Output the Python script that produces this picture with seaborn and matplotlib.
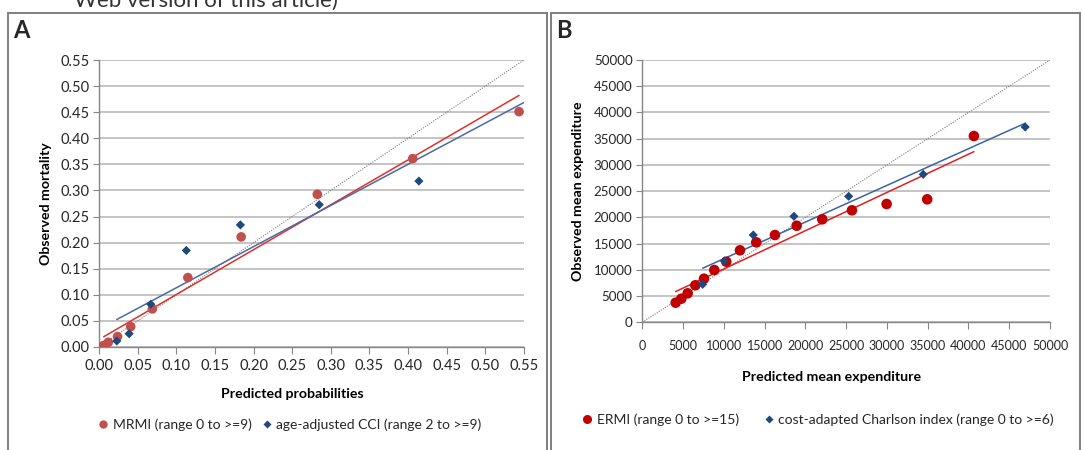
import numpy as np
import pandas as pd
import matplotlib
matplotlib.use("Agg")
import matplotlib.pyplot as plt
import seaborn as sns
from matplotlib.patches import Rectangle
from matplotlib.lines import Line2D
from matplotlib.ticker import FormatStrFormatter, MultipleLocator

# Panel A: mortality
mrmi_pred = [0.006, 0.012, 0.024, 0.041, 0.069, 0.115, 0.184, 0.2825, 0.406, 0.5436]
mrmi_obs = [0.003, 0.009, 0.020, 0.039, 0.073, 0.133, 0.211, 0.2926, 0.361, 0.451]
cci_pred = [0.023, 0.039, 0.067, 0.113, 0.183, 0.285, 0.414]
cci_obs = [0.0115, 0.0255, 0.082, 0.185, 0.234, 0.2727, 0.318]

# Panel B: expenditure
ermi_pred = [4095, 4783, 5566, 6500, 7565, 8827, 10298, 11978, 13976, 16269,
             18930, 22068, 25710, 29963, 34941, 40666]
ermi_obs = [3736, 4498, 5527, 7052, 8310, 9968, 11550, 13723, 15248, 16640,
            18412, 19632, 21347, 22548, 23444, 35510]
charl_pred = [7405, 10053, 13609, 18599, 25305, 34451, 46958]
charl_obs = [7243, 11684, 16640, 20204, 24016, 28209, 37225]

label_mrmi = "MRMI (range 0 to >=9)"
label_cci = "age-adjusted CCI (range 2 to >=9)"
label_ermi = "ERMI (range 0 to >=15)"
label_charl = "cost-adapted Charlson index (range 0 to >=6)"

sns.set_style("white")
plt.rcParams["font.family"] = ["Lato", "DejaVu Sans"]

W, H = 1084, 450
fig = plt.figure(figsize=(W / 100, H / 100), dpi=100)

def fx(px):
    return px / W

def fy(py):
    return 1 - py / H

ax_a = fig.add_axes([fx(99), fy(347), fx(524 - 99), (347 - 60) / H])
ax_b = fig.add_axes([fx(642.3), fy(322.3), fx(1050 - 642.3), (322.3 - 60) / H])

grid_c = "#bfbfbf"
spine_c = "#868686"
txt_c = "#262626"


def style_axis(ax, fs):
    sns.despine(ax=ax)
    ax.yaxis.grid(True, color=grid_c, lw=1.3)
    ax.xaxis.grid(False)
    ax.set_axisbelow(True)
    for s in ["left", "bottom"]:
        ax.spines[s].set_color(spine_c)
        ax.spines[s].set_linewidth(1.0)
    ax.tick_params(axis="x", direction="out", length=5, color=spine_c,
                   labelsize=fs, labelcolor=txt_c, bottom=True, pad=4)
    ax.tick_params(axis="y", direction="out", length=4, color=spine_c,
                   labelsize=fs, labelcolor=txt_c, left=True, pad=3)


def fit_line(ax, x, y, x0, x1, color):
    k, b = np.polyfit(x, y, 1)
    xs = np.array([x0, x1])
    ax.plot(xs, k * xs + b, color=color, lw=1.1, zorder=2)


def marker_handle(marker, color, size, label):
    return Line2D([], [], ls="none", marker=marker, color=color,
                  markeredgecolor="none", markersize=size, label=label)


# ---- Panel A
df_a = pd.concat([
    pd.DataFrame({"pred": mrmi_pred, "obs": mrmi_obs, "index": label_mrmi}),
    pd.DataFrame({"pred": cci_pred, "obs": cci_obs, "index": label_cci}),
])
ax_a.plot([0, 0.55], [0, 0.55], color="#7f7f7f", lw=0.8, ls=(0, (1, 1.2)), zorder=2)
fit_line(ax_a, mrmi_pred, mrmi_obs, min(mrmi_pred), max(mrmi_pred), "#e0302a")
fit_line(ax_a, cci_pred, cci_obs, min(cci_pred), 0.55, "#4a6aa5")
sns.scatterplot(data=df_a, x="pred", y="obs", hue="index", style="index",
                palette={label_mrmi: "#c0504d", label_cci: "#1f497d"},
                markers={label_mrmi: "o", label_cci: "D"},
                size="index", sizes={label_mrmi: 48, label_cci: 22},
                edgecolor="none", ax=ax_a, zorder=3, legend=False)
ax_a.set_xlim(0, 0.55)
ax_a.set_ylim(0, 0.55)
ax_a.xaxis.set_major_locator(MultipleLocator(0.05))
ax_a.yaxis.set_major_locator(MultipleLocator(0.05))
ax_a.xaxis.set_major_formatter(FormatStrFormatter("%.2f"))
ax_a.yaxis.set_major_formatter(FormatStrFormatter("%.2f"))
style_axis(ax_a, 10.5)
ax_a.set_xlabel("")
ax_a.set_ylabel("")
fig.legend(handles=[marker_handle("o", "#c0504d", 6, label_mrmi),
                    marker_handle("D", "#1f497d", 4, label_cci)],
           loc="center", bbox_to_anchor=(fx(290), fy(425)), ncol=2,
           frameon=False, fontsize=10, handlelength=0.7, handletextpad=0.35,
           columnspacing=0.7, labelcolor=txt_c)
fig.text(fx(292), fy(394), "Predicted probabilities", ha="center", va="center",
         fontsize=10.2, fontweight="bold", color="black")
fig.text(fx(46), fy(204), "Observed mortality", ha="center", va="center",
         rotation=90, fontsize=10.2, fontweight="bold", color="black")

# ---- Panel B
df_b = pd.concat([
    pd.DataFrame({"pred": ermi_pred, "obs": ermi_obs, "index": label_ermi}),
    pd.DataFrame({"pred": charl_pred, "obs": charl_obs, "index": label_charl}),
])
ax_b.plot([0, 50000], [0, 50000], color="#7f7f7f", lw=0.8, ls=(0, (1, 1.2)), zorder=2)
sns.scatterplot(data=df_b, x="pred", y="obs", hue="index", style="index",
                palette={label_ermi: "#c00000", label_charl: "#1f497d"},
                markers={label_ermi: "o", label_charl: "D"},
                size="index", sizes={label_ermi: 58, label_charl: 22},
                edgecolor="none", ax=ax_b, zorder=3, legend=False)
fit_line(ax_b, charl_pred, charl_obs, min(charl_pred), max(charl_pred), "#3a64a0")
fit_line(ax_b, ermi_pred, ermi_obs, min(ermi_pred), max(ermi_pred), "#e02020")
ax_b.set_xlim(0, 50000)
ax_b.set_ylim(0, 50000)
ax_b.xaxis.set_major_locator(MultipleLocator(5000))
ax_b.yaxis.set_major_locator(MultipleLocator(5000))
ax_b.xaxis.set_major_formatter(FormatStrFormatter("%d"))
ax_b.yaxis.set_major_formatter(FormatStrFormatter("%d"))
style_axis(ax_b, 9.6)
ax_b.tick_params(axis="x", labelsize=9, pad=8)
ax_b.set_xlabel("")
ax_b.set_ylabel("")
fig.legend(handles=[marker_handle("o", "#c00000", 6.5, label_ermi),
                    marker_handle("D", "#1f497d", 4, label_charl)],
           loc="center", bbox_to_anchor=(fx(818), fy(420)), ncol=2,
           frameon=False, fontsize=10, handlelength=0.7, handletextpad=0.35,
           columnspacing=1.8, labelcolor=txt_c)
fig.text(fx(832), fy(377), "Predicted mean expenditure", ha="center", va="center",
         fontsize=10.2, fontweight="bold", color="black")
fig.text(fx(578), fy(191), "Observed mean expenditure", ha="center", va="center",
         rotation=90, fontsize=10.2, fontweight="bold", color="black")

# panel frames and letters
for x0, x1 in [(8, 547), (551, 1080)]:
    fig.add_artist(Rectangle((fx(x0), -0.02), fx(x1 - x0), fy(13) + 0.02,
                             transform=fig.transFigure, fill=False,
                             ec="#7f7f7f", lw=1.4))
fig.text(fx(13), fy(19), "A", ha="left", va="top", fontsize=17, fontweight="bold")
fig.text(fx(556), fy(19), "B", ha="left", va="top", fontsize=17, fontweight="bold")
fig.text(fx(74), fy(1), "Web version of this article)", ha="left", va="center",
         fontsize=16, color="#333333")

fig.savefig("out.png", dpi=100)
